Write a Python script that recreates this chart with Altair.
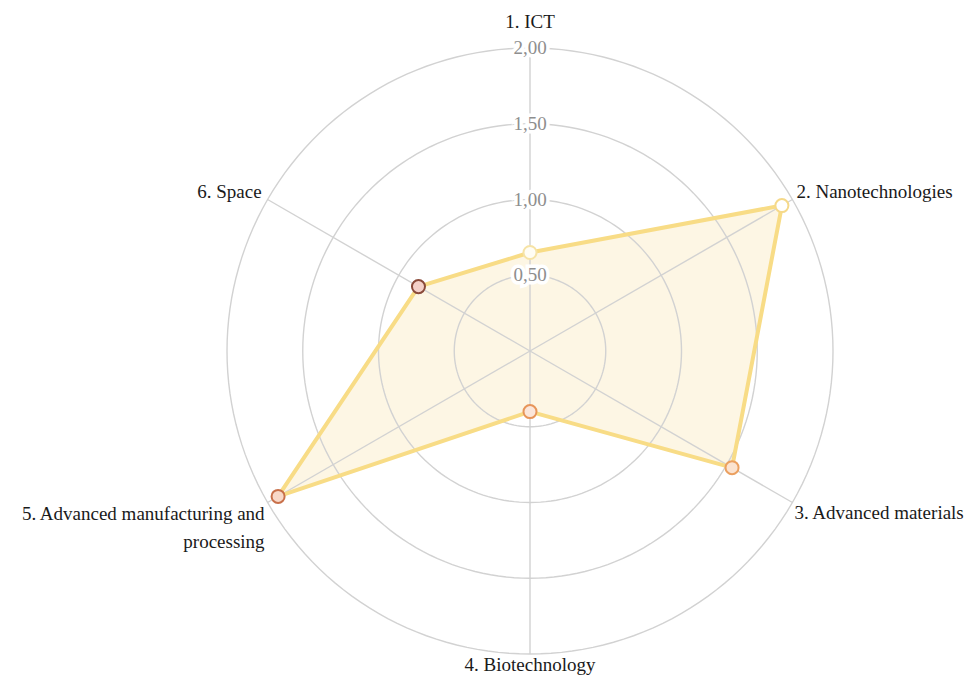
import math
import altair as alt
import pandas as pd

# ---------------- data ----------------
categories = [
    "1. ICT",
    "2. Nanotechnologies",
    "3. Advanced materials",
    "4. Biotechnology",
    "5. Advanced manufacturing and\nprocessing",
    "6. Space",
]
values = [0.65, 1.92, 1.54, 0.40, 1.92, 0.85]
point_stroke = ["#F6E3A6", "#F5D98A", "#EBA060", "#E7955A", "#C8704A", "#8A4A3A"]
point_fill = ["#FFFDF4", "#FFFFFF", "#FBE3D0", "#FBE6DA", "#F8D8C8", "#F4D0C8"]
ring_values = [0.5, 1.0, 1.5, 2.0]
ring_labels = ["0,50", "1,00", "1,50", "2,00"]
r_max = 2.0

# ---------------- geometry helpers ----------------
n = len(categories)
angles = [2 * math.pi * i / n for i in range(n)]

K = 151.5          # px per unit
W, H = 957, 668
CX, CY = 522, 343  # centre in plot px
xdom = [-CX / K, (W - CX) / K]
ydom = [-(H - CY) / K, CY / K]
xs = alt.Scale(domain=xdom, nice=False, zero=False)
ys = alt.Scale(domain=ydom, nice=False, zero=False)
FONT = "Liberation Serif"

# polygon
poly = pd.DataFrame({
    "cat": categories + [categories[0]],
    "order": list(range(n + 1)),
    "x": [v * math.sin(a) for v, a in zip(values + [values[0]], angles + [angles[0]])],
    "y": [v * math.cos(a) for v, a in zip(values + [values[0]], angles + [angles[0]])],
})
pts = poly.iloc[:n].copy()

# rings
ring_rows = []
for r in ring_values:
    for k in range(0, 361, 2):
        t = math.radians(k)
        ring_rows.append({"ring": r, "t": k, "x": r * math.sin(t), "y": r * math.cos(t)})
rings = pd.DataFrame(ring_rows)

# spokes
spokes = pd.DataFrame({
    "x": [0.0] * n, "y": [0.0] * n,
    "x2": [r_max * math.sin(a) for a in angles],
    "y2": [r_max * math.cos(a) for a in angles],
})

ticks = pd.DataFrame({"x": [0.0] * len(ring_values), "y": ring_values, "label": ring_labels})

lab = pd.DataFrame({
    "cat": categories,
    "x": [r_max * math.sin(a) for a in angles],
    "y": [r_max * math.cos(a) for a in angles],
})

base_xy = dict(
    x=alt.X("x:Q", scale=xs, axis=None),
    y=alt.Y("y:Q", scale=ys, axis=None),
)

fill_layer = alt.Chart(poly).mark_line(
    fill="#FDF6E4", stroke=None, strokeWidth=0
).encode(order="order:Q", **base_xy)

ring_layer = alt.Chart(rings).mark_line(
    stroke="#D2D2D2", strokeWidth=1.4
).encode(detail="ring:N", order="t:Q", **base_xy)

spoke_layer = alt.Chart(spokes).mark_rule(
    stroke="#D2D2D2", strokeWidth=1.4
).encode(x2="x2:Q", y2="y2:Q", **base_xy)

outline_layer = alt.Chart(poly).mark_line(
    stroke="#F8DC86", strokeWidth=4, strokeJoin="round"
).encode(order="order:Q", **base_xy)

point_layer = alt.Chart(pts).mark_point(
    shape="circle", filled=True, size=170, strokeWidth=2, opacity=1
).encode(
    fill=alt.Fill("cat:N", scale=alt.Scale(domain=categories, range=point_fill), legend=None),
    stroke=alt.Stroke("cat:N", scale=alt.Scale(domain=categories, range=point_stroke), legend=None),
    **base_xy,
)

halo_layer = alt.Chart(ticks).mark_text(
    font=FONT, fontSize=19, stroke="white", strokeWidth=7, fill="white",
    align="center", baseline="middle",
).encode(text="label:N", **base_xy)

tick_layer = alt.Chart(ticks).mark_text(
    font=FONT, fontSize=19, fill="#8E8E8E", align="center", baseline="middle",
).encode(text="label:N", **base_xy)

def label_layer(idx, align, baseline, dx, dy):
    return alt.Chart(lab.iloc[idx]).mark_text(
        font=FONT, fontSize=19, fill="#1a1a1a", align=align, baseline=baseline,
        dx=dx, dy=dy, lineBreak="\n", lineHeight=28,
    ).encode(text="cat:N", **base_xy)

labels = [
    label_layer([0], "center", "middle", 0, -26),
    label_layer([1], "left", "middle", 4, -8),
    label_layer([2], "left", "middle", 2, 10),
    label_layer([3], "center", "middle", 0, 11),
    label_layer([4], "right", "alphabetic", -3, 17),
    label_layer([5], "right", "middle", -6, -8),
]

chart = alt.layer(
    fill_layer, ring_layer, spoke_layer, outline_layer, point_layer,
    halo_layer, tick_layer, *labels,
).properties(
    width=W, height=H, padding=0, autosize=alt.AutoSizeParams(type="none")
).configure_view(stroke=None)

chart.save("out.html", embed_options={"renderer": "svg", "actions": False})
